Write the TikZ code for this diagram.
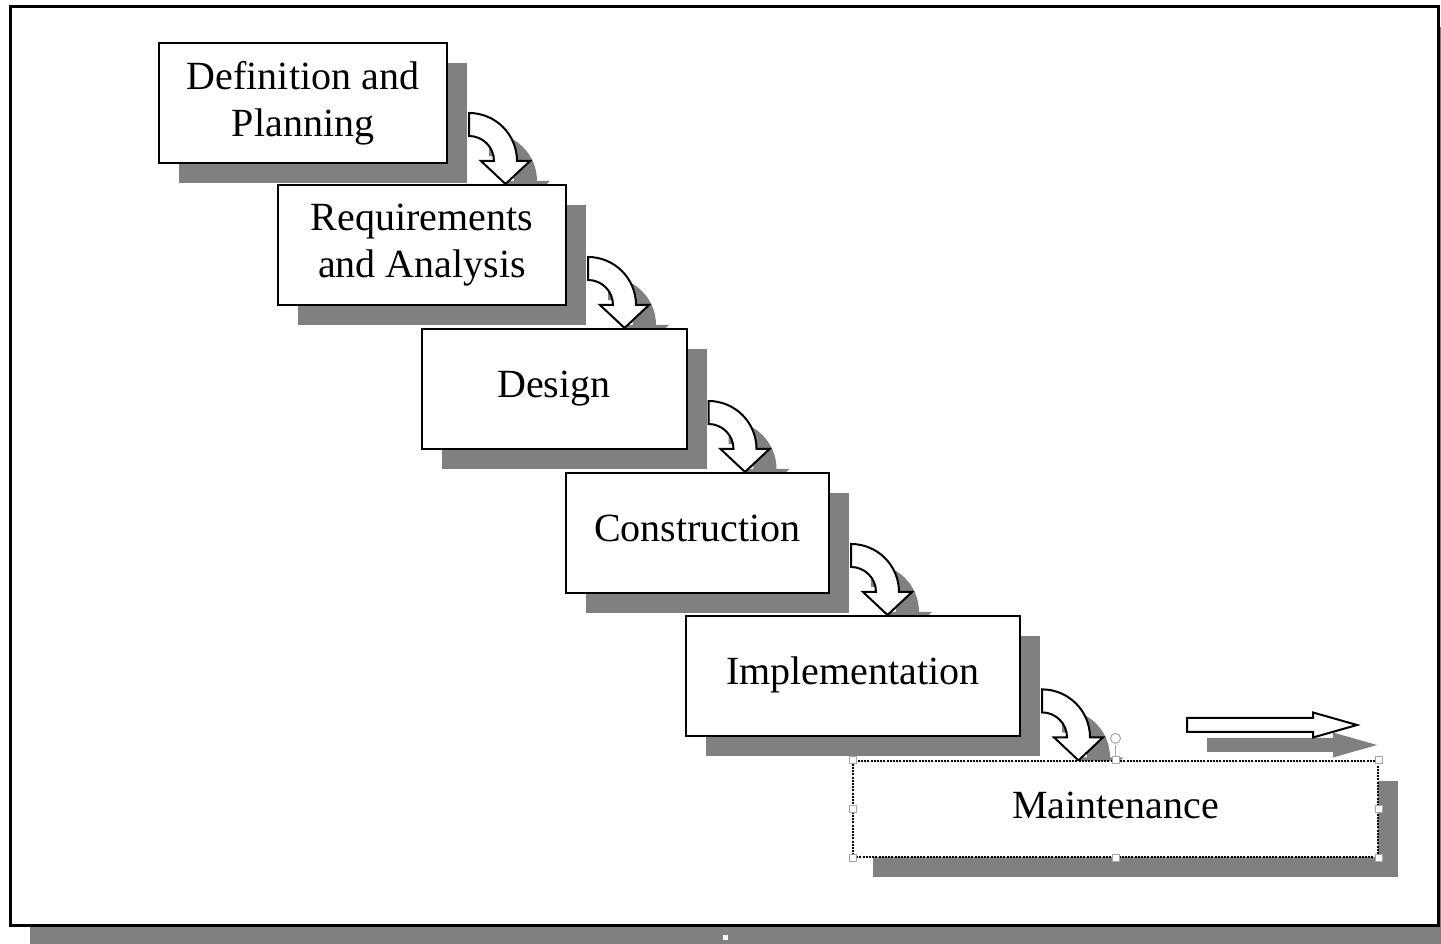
\documentclass[tikz,border=0pt]{standalone}
\usepackage{fontspec}
\setmainfont{Liberation Serif}
\usetikzlibrary{calc,shadows}

\pgfdeclarelayer{paper}
\pgfdeclarelayer{arrows}
\pgfsetlayers{paper,arrows,main}

\definecolor{castgray}{gray}{0.5}

\tikzset{
  phase/.style={draw=black, line width=2pt, fill=white, inner sep=0pt,
    minimum height=120pt, align=center,
    font=\fontsize{40}{47}\selectfont,
    drop shadow={shadow xshift=20pt, shadow yshift=-20pt,
      opacity=1, fill=castgray}},
  oneline/.style={phase, text height=27pt, text depth=10pt},
  picked/.style={oneline, line width=1.2pt, dash pattern=on 2pt off 1.2pt,
    minimum height=96pt, text height=28pt, text depth=9pt},
  hollow/.style={draw=black, line width=2pt, fill=white, line join=miter},
  shadowed/.style={fill=castgray},
  grip/.style={draw=gray!70, line width=0.8pt, fill=white}
}

\newcommand{\bentpath}{(0,48) arc[start angle=90, end angle=0, radius=48pt]
  -- (61,0) -- (36.5,-23) -- (12,0) -- (25,0)
  arc[start angle=0, end angle=90, radius=25pt] -- cycle}
\newcommand{\flowpath}{(0,7) -- (126,7) -- (126,12.5) -- (170,0)
  -- (126,-12.5) -- (126,-7) -- (0,-7) -- cycle}

% bent arrow from the side of #1 down onto the top of #2
\newcommand{\steparrow}[2]{%
  \coordinate (bend) at ($(#1.south east |- #2.north)+(21,23)$);
  \begin{pgfonlayer}{arrows}
    \fill[shadowed, shift={($(bend)+(20,-20)$)}] \bentpath;
    \draw[hollow, shift={(bend)}] \bentpath;
  \end{pgfonlayer}
}

\begin{document}
\begin{tikzpicture}[x=1pt,y=1pt]
\useasboundingbox (0,0) rectangle (1441,944);
\begin{pgfonlayer}{paper}
  \fill[castgray] (30,0) rectangle (1441,917);
  \draw[line width=3pt, fill=white] (10,937) rectangle (1438,18);
  \fill[white] (722.5,3.5) rectangle ++(5,5);
\end{pgfonlayer}

\node[phase, minimum width=288pt] (def) at (303,841) {Definition and\\Planning};
\node[phase, minimum width=288pt] (req) at (422,699) {Requirements\\and Analysis};
\node[oneline, minimum width=265pt] (des) at (554,555) {Design};
\node[oneline, minimum width=263pt] (con) at (697.5,411) {Construction};
\node[oneline, minimum width=334pt] (imp) at (853,268) {Implementation};
\node[picked, minimum width=525pt] (mnt) at (1115.5,135) {Maintenance};

\steparrow{def}{req}
\steparrow{req}{des}
\steparrow{des}{con}
\steparrow{con}{imp}
\steparrow{imp}{mnt}

% onward arrow
\coordinate (flow) at (1187,219);
\fill[shadowed, shift={($(flow)+(20,-20)$)}] \flowpath;
\draw[hollow, shift={(flow)}] \flowpath;

% selection grips
\foreach \a in {north west,north,north east,east,south east,south,south west,west}
  \draw[grip] ($(mnt.\a)+(-3.5,-3.5)$) rectangle ++(7,7);
\draw[gray!70, line width=0.8pt] ($(mnt.north)+(0,3.5)$) -- ++(0,12);
\draw[gray!70, line width=1pt] ($(mnt.north)+(0,22)$) circle[radius=5pt];
\end{tikzpicture}
\end{document}
